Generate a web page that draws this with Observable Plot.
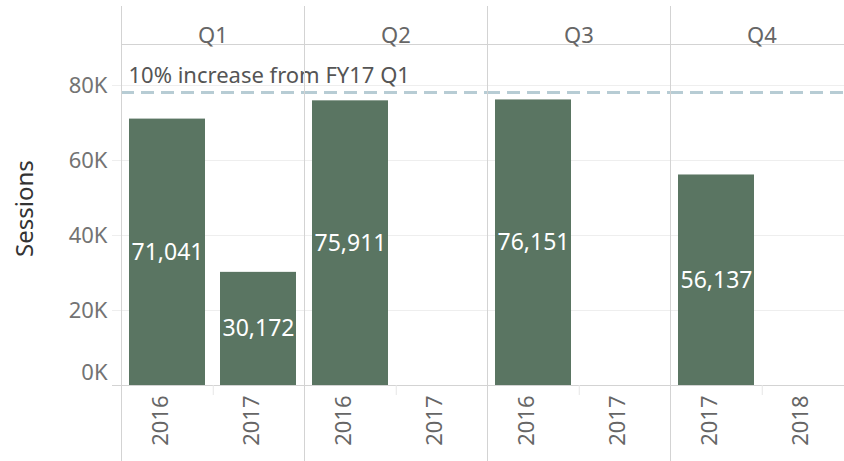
<!DOCTYPE html>
<html>
<head>
<meta charset="utf-8">
<script src="https://cdn.jsdelivr.net/npm/d3@7"></script>
<script src="https://cdn.jsdelivr.net/npm/@observablehq/plot@0.6"></script>
<style>
  html, body { margin: 0; padding: 0; background: white; }
</style>
</head>
<body>
<div id="chart"></div>
<script>
const quarters = ["Q1", "Q2", "Q3", "Q4"];
const years = [["2016", "2017"], ["2016", "2017"], ["2016", "2017"], ["2017", "2018"]];
const sessions = [[71041, 30172], [75911, null], [76151, null], [56137, null]];
const refValue = 78145;
const refLabel = "10% increase from FY17 Q1";
const yTicks = [0, 20000, 40000, 60000, 80000];
const yLabel = "Sessions";

const table = quarters.flatMap((q, i) =>
  years[i].map((y, j) => ({quarter: q, slot: j, year: y, value: sessions[i][j]}))
);
const bars = table.filter(d => d.value != null);
const fmt = d3.format(",");
const kfmt = d => d / 1000 + "K";
const lineColor = "#d3d3d3";

const chart = Plot.plot({
  width: 844,
  height: 461,
  marginLeft: 121,
  marginRight: -9,
  marginTop: 44,
  marginBottom: 76,
  style: {fontFamily: "'Noto Sans', sans-serif", fontSize: "22px", background: "white"},
  fx: {domain: quarters, padding: 0, axis: null},
  x: {domain: [0, 1], paddingInner: 0.16, paddingOuter: 0.08, axis: null},
  y: {domain: [0, 90933]},
  marks: [
    Plot.ruleY(yTicks.slice(1), {stroke: "#eeeeee", insetLeft: -9}),
    Plot.ruleY([0], {stroke: lineColor, insetLeft: -9}),
    Plot.ruleX(quarters, {fx: d => d, x: () => 0, dx: 45.75, stroke: "#e6e6e6", insetTop: 341, insetBottom: -10}),
    Plot.barY(bars, {fx: "quarter", x: "slot", y: "value", fill: "#5a7562"}),
    Plot.text(bars, {fx: "quarter", x: "slot", y: d => d.value / 2, text: d => fmt(d.value), fill: "white", fontSize: 23}),
    Plot.ruleY([refValue], {stroke: "#b7ccd4", strokeWidth: 3, strokeDasharray: "13,7"}),
    Plot.text([refLabel], {fx: () => "Q1", y: () => refValue, text: d => d, frameAnchor: "left", textAnchor: "start", dx: 7, dy: -17, fill: "#555"}),
    Plot.frame({anchor: "top", stroke: lineColor}),
    Plot.frame({anchor: "left", stroke: lineColor, insetTop: -38, insetBottom: -76}),
    Plot.text(quarters, {fx: d => d, text: d => d, frameAnchor: "top", dy: -17, fill: "#666"}),
    Plot.text(table, {fx: "quarter", x: "slot", text: "year", frameAnchor: "bottom", rotate: -90, textAnchor: "end", dy: 10, fill: "#666"}),
    Plot.axisY(yTicks.slice(1), {tickFormat: kfmt, tickSize: 0, tickPadding: 14, color: "#737373", label: null}),
    Plot.axisY([0], {tickFormat: kfmt, tickSize: 0, tickPadding: 14, color: "#737373", label: null, dy: -13}),
    Plot.text([yLabel], {fx: () => "Q1", text: d => d, frameAnchor: "left", rotate: -90, dx: -96, dy: 42, fontSize: 24, fill: "#333"})
  ]
});
document.getElementById("chart").appendChild(chart);
</script>
</body>
</html>
